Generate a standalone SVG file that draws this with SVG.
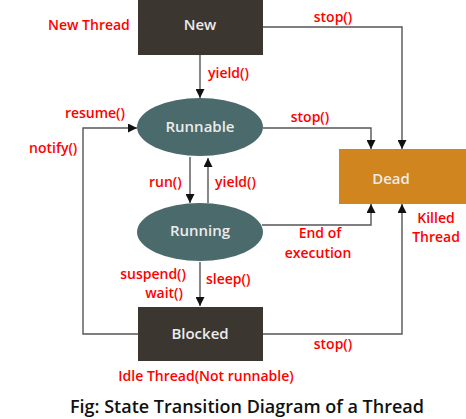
<svg xmlns="http://www.w3.org/2000/svg" width="466" height="419" viewBox="0 0 466 419">
<style>
.box{fill:#3b3630}
.ell{fill:#4b6a6b}
.dead{fill:#d0851f}
.nt{font-family:"Open Sans","Liberation Sans",sans-serif;font-size:15px;font-weight:600;fill:#ececec;text-anchor:middle}
.lb{font-family:"Open Sans","Liberation Sans",sans-serif;font-size:14px;font-weight:600;fill:#ff0000}
.c{text-anchor:middle}
.r{text-anchor:end}
.ln{fill:none;stroke:#555;stroke-width:1.4}
.cap{font-family:"Open Sans","Liberation Sans",sans-serif;font-size:18px;font-weight:600;fill:#111;text-anchor:middle}
</style>
<defs>
<marker id="ah" viewBox="0 0 10 10" refX="10" refY="5" markerWidth="9" markerHeight="9" markerUnits="userSpaceOnUse" orient="auto">
<path d="M0,0 L10,5 L0,10 z" fill="#111"/>
</marker>
</defs>
<rect width="466" height="419" fill="#fff"/>
<g id="connectors">
<path class="ln" d="M200,55 V98" marker-end="url(#ah)"/>
<path class="ln" d="M263,27 H402 V149" marker-end="url(#ah)"/>
<path class="ln" d="M263,128 H371 V149" marker-end="url(#ah)"/>
<path class="ln" d="M190,157 V203" marker-end="url(#ah)"/>
<path class="ln" d="M208,203 V158" marker-end="url(#ah)"/>
<path class="ln" d="M200,262 V306" marker-end="url(#ah)"/>
<path class="ln" d="M138,334 H83 V128 H137" marker-end="url(#ah)"/>
<path class="ln" d="M262,225 H371 V204" marker-end="url(#ah)"/>
<path class="ln" d="M263,334 H402 V204" marker-end="url(#ah)"/>
</g>
<g id="new">
<rect class="box" x="138" y="0" width="125" height="55"/>
<text class="nt" x="200" y="30">New</text>
</g>
<g id="runnable">
<ellipse class="ell" cx="200" cy="127" rx="63" ry="29"/>
<text class="nt" x="200" y="132">Runnable</text>
</g>
<g id="running">
<ellipse class="ell" cx="200" cy="232" rx="63" ry="29"/>
<text class="nt" x="200" y="236">Running</text>
</g>
<g id="blocked">
<rect class="box" x="138" y="307" width="125" height="54"/>
<text class="nt" x="200" y="339">Blocked</text>
</g>
<g id="dead">
<rect class="dead" x="339" y="149" width="127" height="55"/>
<text class="nt" x="391" y="184">Dead</text>
</g>
<g id="labels">
<text class="lb" x="48" y="30">New Thread</text>
<text class="lb" x="208" y="78">yield()</text>
<text class="lb c" x="333" y="22">stop()</text>
<text class="lb c" x="310" y="122">stop()</text>
<text class="lb r" x="125" y="118">resume()</text>
<text class="lb" x="29" y="153">notify()</text>
<text class="lb" x="149" y="187">run()</text>
<text class="lb" x="215" y="187">yield()</text>
<text class="lb r" x="186" y="279">suspend()</text>
<text class="lb r" x="183" y="298">wait()</text>
<text class="lb" x="206" y="284">sleep()</text>
<text class="lb c" x="320" y="238">End of</text>
<text class="lb c" x="318" y="258">execution</text>
<text class="lb c" x="436" y="223">Killed</text>
<text class="lb c" x="436" y="242">Thread</text>
<text class="lb c" x="333" y="349">stop()</text>
<text class="lb c" x="206" y="381">Idle Thread(Not runnable)</text>
</g>
<text class="cap" x="247" y="413">Fig: State Transition Diagram of a Thread</text>
</svg>
